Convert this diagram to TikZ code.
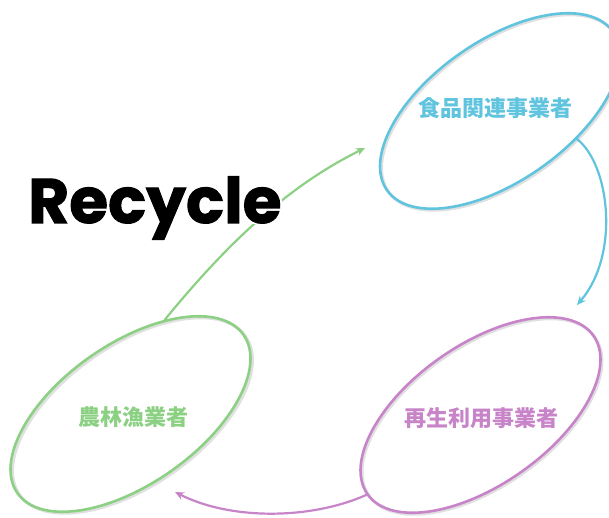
\documentclass[tikz,border=0pt]{standalone}
\usepackage{fontspec}
\usetikzlibrary{shapes.geometric,arrows.meta}
\newfontfamily\cjkfont{Noto Sans CJK JP}
\newfontfamily\titlefont{Poppins}[BoldFeatures={FakeBold=1.6}]
\definecolor{cblue}{RGB}{96,196,222}
\definecolor{cpink}{RGB}{200,132,200}
\definecolor{cgreen}{RGB}{140,208,132}
\tikzset{
  oval/.style={ellipse, draw=#1, line width=2.6pt, minimum width=276pt, minimum height=140pt, inner sep=0pt, rotate=35},
  ovalshadow/.style={ellipse, draw=black!12, line width=3pt, minimum width=276pt, minimum height=140pt, inner sep=0pt, rotate=35},
  label/.style={text=#1, font=\cjkfont\bfseries\fontsize{22}{22}\selectfont, inner sep=0pt},
  flow/.style={draw=#1, line width=2.2pt, line cap=round, -{Stealth[length=9pt,width=8pt]}}
}
\begin{document}
\begin{tikzpicture}[x=1pt,y=-1pt]
\useasboundingbox (0,0) rectangle (609,518);
% shadows
\node[ovalshadow] at (501.5,112.5) {};
\node[ovalshadow] at (482,416.5) {};
\node[ovalshadow] at (132.5,415.5) {};
% ellipses
\node[oval=cblue] (bl) at (500,111) {};
\node[oval=cpink] (pk) at (480.5,415) {};
\node[oval=cgreen] (gr) at (130.5,414) {};
% labels
\node[label=cblue] (tbl) at (495,108) {食品関連事業者};
\node[label=cpink] (tpk) at (481,418) {再生利用事業者};
\node[label=cgreen] (tgr) at (133,417) {農林漁業者};
% connector free ends
\coordinate (gend) at (365,148);
\coordinate (bend) at (577,305);
\coordinate (pend) at (175,492);
% connectors
\draw[flow=cgreen] (gr.35) .. controls (230,240) and (290,185) .. (gend);
\draw[flow=cblue] (bl.-55) .. controls (610,165) and (620,255) .. (bend);
\draw[flow=cpink] (pk.180) .. controls (310,520) and (230,520) .. (pend);
% title
\node[anchor=base west, fill=white, inner xsep=0pt, inner ysep=1pt, text depth=0pt, font=\titlefont\bfseries\fontsize{63}{63}\selectfont] (title) at (28,223) {Recycle};
\end{tikzpicture}
\end{document}
